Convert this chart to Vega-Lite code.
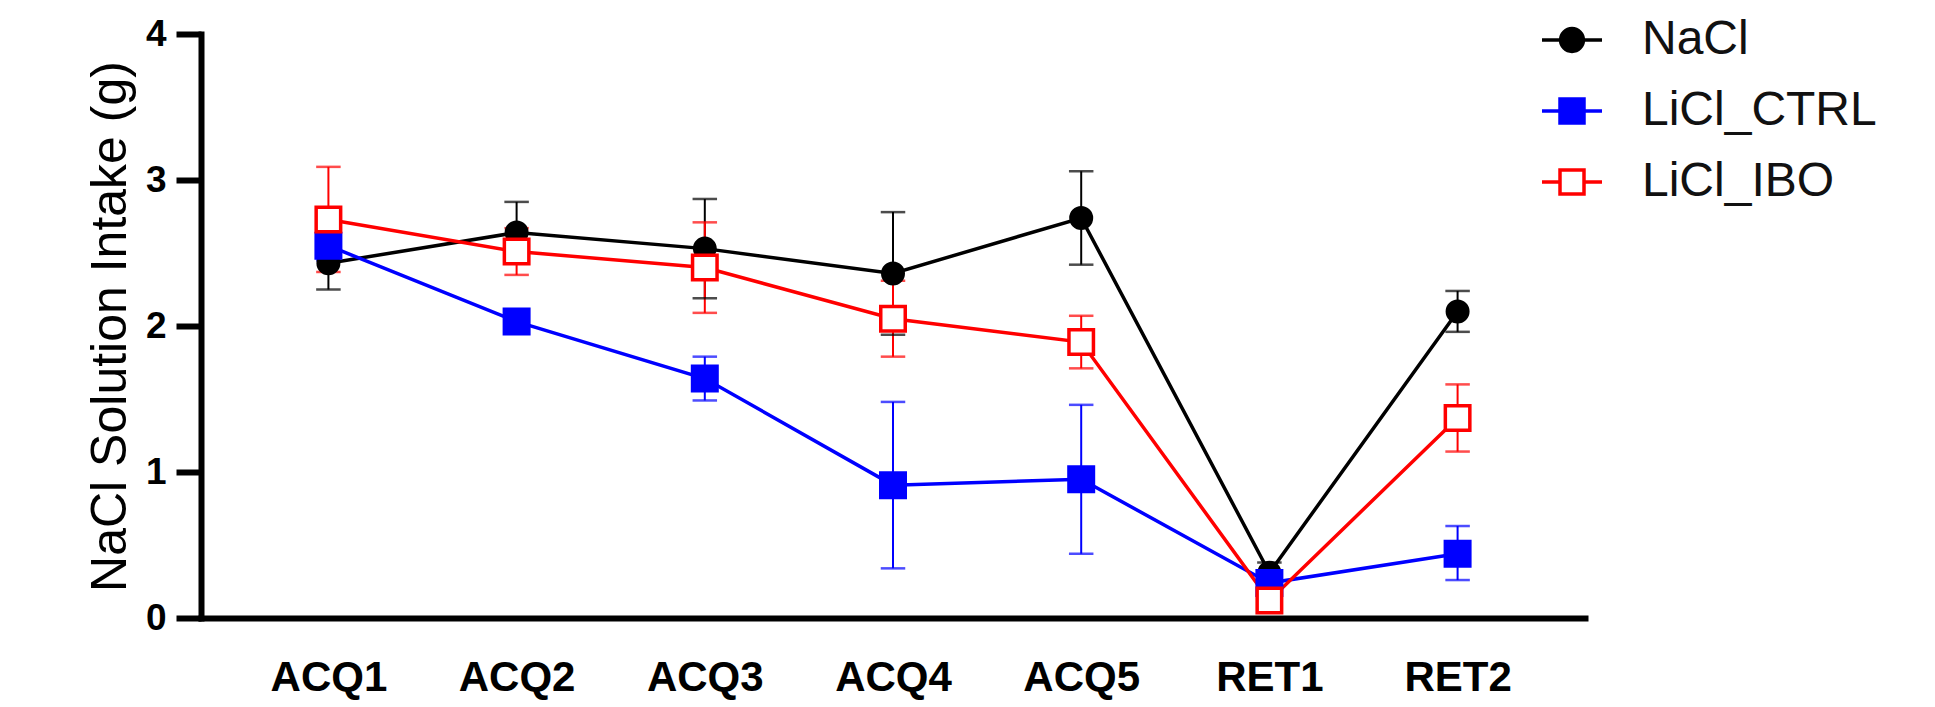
{
  "$schema": "https://vega.github.io/schema/vega-lite/v6.json",
  "autosize": {"type": "none"},
  "padding": {"left": 201, "top": 34, "right": 350, "bottom": 89},
  "width": 1384,
  "height": 584,
  "background": "white",
  "config": {
    "view": {"stroke": null},
    "font": "Liberation Sans",
    "axis": {"grid": false, "domainColor": "#000000", "domainWidth": 6, "domainCap": "square", "tickColor": "#000000", "labelColor": "#000000", "titleColor": "#000000"},
    "legend": {
      "padding": 0,
      "labelFont": "Liberation Sans", "labelFontSize": 48, "labelColor": "#111111", "labelLimit": 0,
      "symbolSize": 3600, "symbolStrokeWidth": 3.5, "symbolOpacity": 1,
      "rowPadding": 15, "labelOffset": 38
    }
  },
  "data": {"values": [
    {"s": "ACQ1", "g": "NaCl", "m": 2.43, "lo": 2.25, "hi": 2.61},
    {"s": "ACQ2", "g": "NaCl", "m": 2.64, "lo": 2.43, "hi": 2.85},
    {"s": "ACQ3", "g": "NaCl", "m": 2.53, "lo": 2.19, "hi": 2.87},
    {"s": "ACQ4", "g": "NaCl", "m": 2.36, "lo": 1.94, "hi": 2.78},
    {"s": "ACQ5", "g": "NaCl", "m": 2.74, "lo": 2.42, "hi": 3.06},
    {"s": "RET1", "g": "NaCl", "m": 0.31, "lo": 0.24, "hi": 0.38},
    {"s": "RET2", "g": "NaCl", "m": 2.10, "lo": 1.96, "hi": 2.24},
    {"s": "ACQ1", "g": "LiCl_CTRL", "m": 2.55, "lo": 2.45, "hi": 2.65},
    {"s": "ACQ2", "g": "LiCl_CTRL", "m": 2.03, "lo": 1.98, "hi": 2.08},
    {"s": "ACQ3", "g": "LiCl_CTRL", "m": 1.64, "lo": 1.49, "hi": 1.79},
    {"s": "ACQ4", "g": "LiCl_CTRL", "m": 0.91, "lo": 0.34, "hi": 1.48},
    {"s": "ACQ5", "g": "LiCl_CTRL", "m": 0.95, "lo": 0.44, "hi": 1.46},
    {"s": "RET1", "g": "LiCl_CTRL", "m": 0.24, "lo": 0.20, "hi": 0.28},
    {"s": "RET2", "g": "LiCl_CTRL", "m": 0.44, "lo": 0.26, "hi": 0.63},
    {"s": "ACQ1", "g": "LiCl_IBO", "m": 2.73, "lo": 2.37, "hi": 3.09},
    {"s": "ACQ2", "g": "LiCl_IBO", "m": 2.51, "lo": 2.35, "hi": 2.67},
    {"s": "ACQ3", "g": "LiCl_IBO", "m": 2.40, "lo": 2.09, "hi": 2.71},
    {"s": "ACQ4", "g": "LiCl_IBO", "m": 2.05, "lo": 1.79, "hi": 2.31},
    {"s": "ACQ5", "g": "LiCl_IBO", "m": 1.89, "lo": 1.71, "hi": 2.07},
    {"s": "RET1", "g": "LiCl_IBO", "m": 0.12, "lo": 0.05, "hi": 0.19},
    {"s": "RET2", "g": "LiCl_IBO", "m": 1.37, "lo": 1.14, "hi": 1.60}
  ]},
  "encoding": {
    "x": {
      "field": "s", "type": "nominal",
      "sort": ["ACQ1", "ACQ2", "ACQ3", "ACQ4", "ACQ5", "RET1", "RET2"],
      "scale": {"type": "point", "padding": 0.677},
      "axis": {"title": null, "ticks": false, "labelAngle": 0, "labelFontSize": 42, "labelFontWeight": "bold", "labelPadding": 39}
    }
  },
  "layer": [
    {
      "mark": {"type": "point", "size": 3600, "strokeWidth": 3.5, "opacity": 0},
      "encoding": {
        "y": {"field": "m", "type": "quantitative", "title": "NaCl Solution Intake (g)",
          "scale": {"domain": [0, 4], "nice": false},
          "axis": {"values": [0, 1, 2, 3, 4], "format": "d", "tickSize": 25, "tickWidth": 6, "labelFontSize": 37, "labelFontWeight": "bold", "labelPadding": 10, "titleFontSize": 50, "titleFontWeight": "normal", "titlePadding": 10}},
        "color": {"field": "g", "type": "nominal",
          "scale": {"domain": ["NaCl", "LiCl_CTRL", "LiCl_IBO"], "range": ["#000000", "#0000ff", "#ff0000"]},
          "legend": {"title": null, "orient": "none", "legendX": 1339, "legendY": -26, "symbolOpacity": 1, "symbolStrokeWidth": 3.5}},
        "fill": {"field": "g", "type": "nominal",
          "scale": {"domain": ["NaCl", "LiCl_CTRL", "LiCl_IBO"], "range": ["#000000", "#0000ff", "#ffffff"]},
          "legend": {"title": null, "orient": "none", "legendX": 1339, "legendY": -26, "symbolOpacity": 1, "symbolStrokeWidth": 3.5}},
        "shape": {"field": "g", "type": "nominal",
          "scale": {"domain": ["NaCl", "LiCl_CTRL", "LiCl_IBO"],
            "range": [
              "M-1,0H-0.38M0.38,0H1M0.38,0A0.38,0.38,0,1,1,-0.38,0A0.38,0.38,0,1,1,0.38,0Z",
              "M-1,0H-0.4M0.4,0H1M-0.4,-0.4H0.4V0.4H-0.4Z",
              "M-1,0H-0.4M0.4,0H1M-0.4,-0.4H0.4V0.4H-0.4Z"
            ]},
          "legend": {"title": null, "orient": "none", "legendX": 1339, "legendY": -26, "symbolOpacity": 1, "symbolStrokeWidth": 3.5}}
      }
    },
    {
      "mark": {"type": "rule", "strokeWidth": 2},
      "encoding": {
        "y": {"field": "lo", "type": "quantitative", "title": "NaCl Solution Intake (g)"},
        "y2": {"field": "hi"},
        "color": {"field": "g", "type": "nominal"}
      }
    },
    {
      "mark": {"type": "tick", "size": 22, "thickness": 0.01, "filled": false, "strokeWidth": 2.5, "orient": "horizontal"},
      "encoding": {
        "y": {"field": "lo", "type": "quantitative", "title": "NaCl Solution Intake (g)"},
        "color": {"field": "g", "type": "nominal"}
      }
    },
    {
      "mark": {"type": "tick", "size": 22, "thickness": 0.01, "filled": false, "strokeWidth": 2.5, "orient": "horizontal"},
      "encoding": {
        "y": {"field": "hi", "type": "quantitative", "title": "NaCl Solution Intake (g)"},
        "color": {"field": "g", "type": "nominal"}
      }
    },
    {
      "mark": {"type": "line", "strokeWidth": 3.5},
      "encoding": {
        "y": {"field": "m", "type": "quantitative", "title": "NaCl Solution Intake (g)"},
        "color": {"field": "g", "type": "nominal"}
      }
    },
    {
      "transform": [{"filter": "datum.g === 'NaCl'"}],
      "mark": {"type": "point", "shape": "circle", "size": 420, "strokeWidth": 3.5, "opacity": 1},
      "encoding": {
        "y": {"field": "m", "type": "quantitative", "title": "NaCl Solution Intake (g)"},
        "color": {"field": "g", "type": "nominal"},
        "fill": {"field": "g", "type": "nominal"}
      }
    },
    {
      "transform": [{"filter": "datum.g !== 'NaCl'"}],
      "mark": {"type": "point", "shape": "square", "size": 600, "strokeWidth": 3.5, "opacity": 1},
      "encoding": {
        "y": {"field": "m", "type": "quantitative", "title": "NaCl Solution Intake (g)"},
        "color": {"field": "g", "type": "nominal"},
        "fill": {"field": "g", "type": "nominal"}
      }
    }
  ]
}
